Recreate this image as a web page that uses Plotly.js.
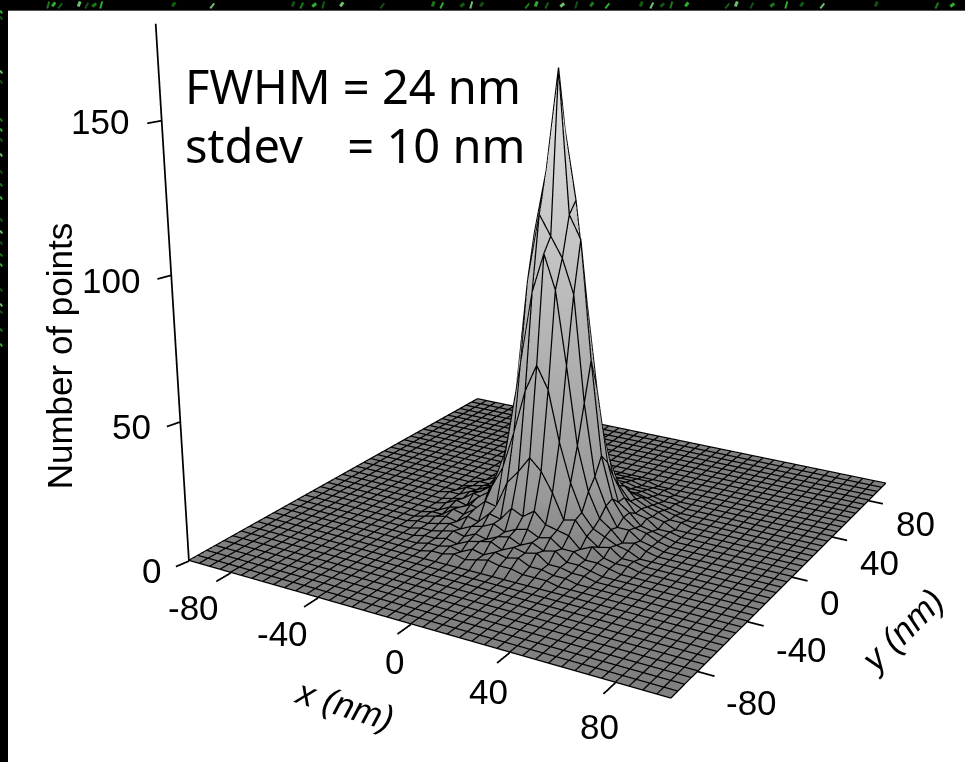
<!DOCTYPE html>
<html><head><meta charset="utf-8"><script src="https://cdn.plot.ly/plotly-3.0.1.min.js"></script>
<style>html,body{margin:0;padding:0;background:#000;overflow:hidden;width:965px;height:762px}#w{position:absolute;left:8px;top:10px;width:957px;height:752px;background:#fff;border-top:1px solid #555}#p{position:absolute}</style></head><body><div id="w"></div><div id="p"></div>
<script>
const xTicks=[-80,-40,0,40,80], yTicks=[-80,-40,0,40,80], zTicks=[0,50,100,150];
const coreAxis=[-50,-45,-40,-35,-30,-25,-20,-15,-10,-5,0,5,10,15,20,25,30,35,40,45,50];
const core=[
[0,0,0,0,0,1,1,2,1,2,3,2,2,1,1,1,0,0,0,0,0],
[0,0,0,0,1,1,2,1,3,2,4,3,4,2,2,1,1,0,0,0,0],
[0,0,0,1,1,2,1,3,4,5,3,5,4,5,2,2,1,1,0,0,0],
[0,0,1,1,2,3,2,4,3,5,6,4,6,4,5,2,2,1,0,0,0],
[0,1,1,2,3,2,4,5,7,5,7,8,6,7,4,4,2,2,1,0,0],
[0,1,2,3,2,5,4,8,7,12,10,13,9,8,7,3,5,2,1,1,0],
[0,1,1,4,3,6,10,9,19,24,30,26,19,10,11,6,3,4,1,1,0],
[0,0,2,3,5,4,14,22,36,52,62,54,36,22,12,7,5,3,2,0,0],
[0,1,3,2,6,9,13,34,60,86,100,88,62,34,18,9,6,2,3,1,0],
[0,1,2,5,4,12,24,48,88,112,105,98,86,48,22,12,5,5,2,1,0],
[1,1,3,4,7,10,30,60,104,126,161,112,104,62,28,13,7,4,3,1,0],
[0,2,2,4,6,13,22,50,86,118,140,116,82,50,24,10,7,3,2,1,0],
[0,1,2,3,7,8,17,36,62,88,106,90,60,34,17,10,5,4,1,1,0],
[0,1,1,4,4,8,12,22,38,54,62,54,36,22,12,7,5,3,2,0,0],
[0,0,2,2,5,5,10,12,20,26,30,26,20,12,10,6,4,3,1,1,0],
[0,0,1,3,3,6,5,8,10,13,15,12,10,8,6,5,3,2,1,0,0],
[0,0,0,1,2,3,4,4,5,6,6,6,5,4,4,3,2,1,0,0,0],
[0,0,0,1,1,2,3,3,4,4,4,4,4,3,3,2,1,1,0,0,0],
[0,0,0,0,1,1,2,2,3,3,3,3,3,2,2,1,1,0,0,0,0],
[0,0,0,0,0,1,1,1,2,2,2,2,2,1,1,1,0,0,0,0,0],
[0,0,0,0,0,0,0,1,1,1,1,1,1,1,0,0,0,0,0,0,0]];
const speckTop=[47,52,58,78,85,92,100,172,210,292,300,312,322,340,380,432,440,460,470,480,525,535,545,560,575,590,605,640,650,660,670,685,725,735,750,770,785,800,820,875,935,950];
const speckLeft=[12,18,72,82,120,130,140,155,172,185,198,220,232,243,255,265,290,305,312,330,345];
const speckColors=['#1a7a1a','#2fae2f','#0f5f0f','#6fc06f','#145014'];
const P=[1.5556,-2.7585,0.9168,0.0780,-0.2031,1.0175,1.0014,1.8961,-0.4028,0.6890,-3.7614,-4.1242];
const s=P[7],W=965*s,H=762*s,DX=P[10]*100,DY=P[11]*100;
const el=document.getElementById('p');el.style.left=DX+'px';el.style.top=DY+'px';
const xs=[],ys=[];for(let i=-100;i<=100;i+=5){xs.push(i);ys.push(i)}
const z=ys.map(y=>xs.map(x=>{const i=coreAxis.indexOf(y),j=coreAxis.indexOf(x);return i>=0&&j>=0?core[i][j]:0}));
const px=v=>(v-DX)/W,py=v=>1-(v-DY)/H;
const lx=[],ly=[],lz=[];function seg(a,b){lx.push(a[0],b[0],null);ly.push(a[1],b[1],null);lz.push(a[2],b[2],null)}
xTicks.forEach(v=>seg([v,-100,0],[v,-108,0]));yTicks.forEach(v=>seg([100,v,0],[106,v,0]));zTicks.forEach(v=>seg([-100,-100,v],[-101,-106,v]));seg([-100,-100,0],[-100,-100,180]);
const gx=[],gy=[],gz=[];const ox=.15,oy=-.25,oz=.4;
ys.forEach((y,i)=>{xs.forEach((x,j)=>{gx.push(x+ox);gy.push(y+oy);gz.push(z[i][j]+oz)});gx.push(null);gy.push(null);gz.push(null)});
xs.forEach((x,j)=>{ys.forEach((y,i)=>{gx.push(x+ox);gy.push(y+oy);gz.push(z[i][j]+oz)});gx.push(null);gy.push(null);gz.push(null)});
const F={family:'Liberation Sans, Arial, sans-serif',size:35,color:'#000'};
const xS=[[-37,-35],[-35,-36],[-16,-37],[-21,-39],[-16,-44]],yS=[[54,-31],[54,-28],[37,-25],[47,-25],[47,-23]],zS=[[-37,-9],[-49,-5],[-60,-5],[-62,-1]];
const ann=[];
xTicks.forEach((v,i)=>ann.push({x:v,y:-100,z:0,text:String(v),xshift:xS[i][0],yshift:xS[i][1],showarrow:false,font:F,xanchor:'center',yanchor:'middle'}));
yTicks.forEach((v,i)=>ann.push({x:100,y:v,z:0,text:String(v),xshift:yS[i][0],yshift:yS[i][1],showarrow:false,font:F,xanchor:'center',yanchor:'middle'}));
zTicks.forEach((v,i)=>ann.push({x:-100,y:-100,z:v,text:String(v),xshift:zS[i][0],yshift:zS[i][1],showarrow:false,font:F,xanchor:'center',yanchor:'middle'}));
ann.push({x:0,y:-100,z:0,text:'<i>x (nm)</i>',textangle:17,xshift:-66,yshift:-80,showarrow:false,font:F});
ann.push({x:100,y:0,z:0,text:'<i>y (nm)</i>',textangle:-45,xshift:109,yshift:-53,showarrow:false,font:F});
ann.push({x:-100,y:-100,z:90,text:'Number of points',textangle:-90,xshift:-114,yshift:-51,showarrow:false,font:F});
const TF={family:'Noto Sans, sans-serif',size:47,color:'#000'};
const paperAnn=[{xref:'paper',yref:'paper',x:px(183),y:py(86),xanchor:'left',yanchor:'middle',showarrow:false,font:TF,text:'FWHM = 24 nm'},
 {xref:'paper',yref:'paper',x:px(183),y:py(145),xanchor:'left',yanchor:'middle',showarrow:false,font:TF,text:'stdev\u00a0\u00a0\u2009 = 10 nm'}];
const shapes=[];
speckTop.forEach((x,i)=>shapes.push({type:'line',xref:'paper',yref:'paper',x0:px(x),x1:px(x+2+i%3),y0:py(8-i%2*2),y1:py(1+i%3),line:{color:speckColors[i%5],width:2+i%2}}));
speckLeft.forEach((y,i)=>shapes.push({type:'line',xref:'paper',yref:'paper',x0:px(0),x1:px(2),y0:py(y-2),y1:py(y+1),line:{color:speckColors[(i+1)%5],width:2}}));
Plotly.newPlot('p',[{type:'surface',x:xs,y:ys,z:z,showscale:false,cmin:0,cmax:170,colorscale:[[0,'#808080'],[0.03,'#888888'],[0.1,'#999999'],[0.3,'#aaaaaa'],[0.6,'#c4c4c4'],[1,'#e8e8e8']],lighting:{ambient:1,diffuse:0,specular:0,roughness:1,fresnel:0},hoverinfo:'skip'},
 {type:'scatter3d',mode:'lines',x:gx,y:gy,z:gz,line:{color:'#000',width:2.5},hoverinfo:'skip'},
 {type:'scatter3d',mode:'lines',x:lx,y:ly,z:lz,line:{color:'#000',width:3.5},hoverinfo:'skip'}],
 {width:W,height:H,margin:{l:0,r:0,t:0,b:0},paper_bgcolor:'rgba(0,0,0,0)',showlegend:false,annotations:paperAnn,shapes:shapes,
  scene:{domain:{x:[0,1],y:[0,1]},aspectmode:'manual',aspectratio:{x:1.25,y:1.25*P[5],z:P[6]*200/180},camera:{eye:{x:P[0],y:P[1],z:P[2]},center:{x:P[3],y:P[4],z:0},up:{x:P[8],y:P[9],z:1}},annotations:ann,
   xaxis:{range:[-125,125],visible:false},yaxis:{range:[-125,125],visible:false},zaxis:{range:[-10,190],visible:false}}},{displayModeBar:false});
</script></body></html>
